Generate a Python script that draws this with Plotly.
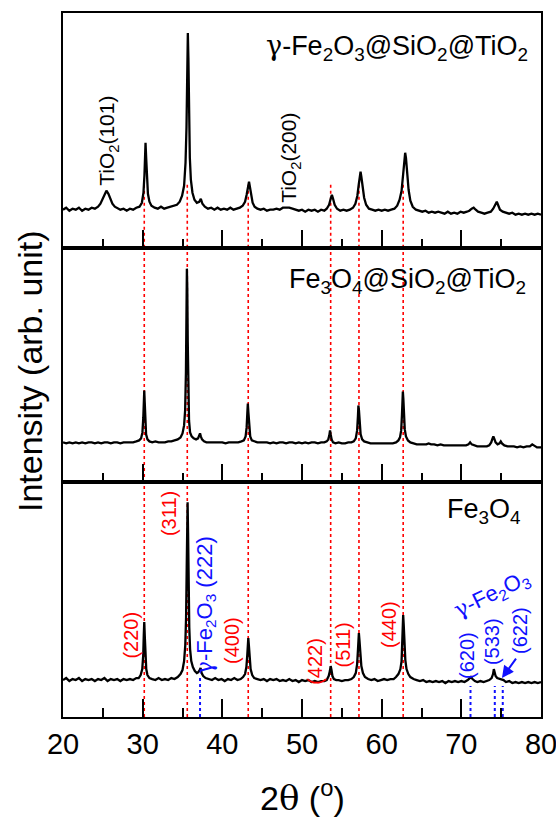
import plotly.graph_objects as go

# ---------------- data (2theta in degrees, intensity in arb. units per panel) ----------------
gamma_pattern = [
    (20.0,38),(20.4,40),(20.8,37),(21.2,39),(21.6,38),(22.0,40),(22.4,37),(22.8,39),(23.2,38),(23.6,40),
    (24.0,39),(24.4,41),(24.7,44),(24.95,49),(25.2,54),(25.45,57),(25.7,54),(25.95,49),(26.2,44),(26.5,41),
    (26.8,40),(27.2,38),(27.6,39),(28.0,37),(28.4,39),(28.8,38),(29.2,40),(29.6,41),(29.9,45),(30.1,55),
    (30.22,72),(30.3,92),(30.36,105),(30.44,90),(30.54,68),(30.66,54),(30.85,46),(31.1,42),(31.5,40),(31.9,39),
    (32.3,41),(32.7,39),(33.1,40),(33.5,41),(33.9,42),(34.3,43),(34.65,46),(34.95,52),(35.2,62),(35.38,85),
    (35.5,120),(35.6,170),(35.67,215),(35.74,190),(35.82,130),(35.92,90),(36.05,68),(36.25,55),(36.5,48),(36.8,45),
    (37.1,46),(37.3,49),(37.5,44),(37.8,41),(38.2,39),(38.6,40),(39.0,38),(39.4,40),(39.8,38),(40.2,39),
    (40.6,38),(41.0,40),(41.4,38),(41.8,39),(42.2,40),(42.55,42),(42.85,46),(43.05,53),(43.2,60),(43.35,66),
    (43.48,60),(43.62,52),(43.8,45),(44.05,41),(44.4,39),(44.8,38),(45.2,39),(45.6,37),(46.0,38),(46.4,38),
    (46.8,39),(47.2,38),(47.6,40),(48.0,40),(48.4,40),(48.8,39),(49.2,38),(49.6,37),(50.0,38),(50.4,36),
    (50.8,38),(51.2,37),(51.6,38),(52.0,36),(52.4,38),(52.8,37),(53.1,39),(53.4,43),(53.6,49),(53.75,53),
    (53.9,49),(54.1,43),(54.4,39),(54.8,37),(55.2,38),(55.6,37),(56.0,38),(56.4,40),(56.7,44),(56.95,52),
    (57.12,63),(57.25,72),(57.35,76),(57.45,71),(57.6,60),(57.8,50),(58.05,43),(58.4,39),(58.8,38),(59.2,37),
    (59.6,38),(60.0,37),(60.4,38),(60.8,37),(61.2,38),(61.6,39),(61.95,42),(62.25,48),(62.5,57),(62.7,72),
    (62.85,88),(62.95,95),(63.05,90),(63.2,74),(63.38,58),(63.6,47),(63.9,41),(64.3,38),(64.7,37),(65.1,36),
    (65.5,37),(65.9,35),(66.3,36),(66.7,35),(67.1,36),(67.5,35),(67.9,34),(68.3,36),(68.7,34),(69.1,35),
    (69.5,34),(69.9,36),(70.3,35),(70.7,36),(71.0,37),(71.3,39),(71.55,40),(71.8,38),(72.1,36),(72.5,35),
    (72.9,34),(73.3,35),(73.7,36),(74.0,39),(74.25,43),(74.45,46),(74.6,43),(74.85,38),(75.2,36),(75.6,35),
    (76.0,34),(76.4,35),(76.8,33),(77.2,34),(77.6,33),(78.0,34),(78.4,33),(78.8,34),(79.2,33),(79.6,34),(80.0,33),
]

fe3o4_sio2_tio2_pattern = [
    (20.0,40),(20.4,39),(20.8,40),(21.2,39),(21.6,40),(22.0,39),(22.4,40),(22.8,39),(23.2,40),(23.6,40),
    (24.0,39),(24.4,40),(24.8,39),(25.2,40),(25.6,40),(26.0,39),(26.4,40),(26.8,40),(27.2,39),(27.6,40),
    (28.0,40),(28.4,40),(28.8,40),(29.2,41),(29.55,42),(29.8,44),(29.97,50),(30.08,65),(30.15,85),(30.2,92),
    (30.26,80),(30.33,60),(30.43,48),(30.6,43),(30.85,41),(31.2,40),(31.6,41),(32.0,40),(32.4,40),(32.8,40),
    (33.2,41),(33.6,41),(34.0,42),(34.4,43),(34.75,45),(35.0,49),(35.2,57),(35.33,72),(35.43,110),(35.5,170),
    (35.55,214),(35.6,195),(35.66,140),(35.73,90),(35.82,62),(35.95,50),(36.15,46),(36.4,44),(36.7,43),(36.95,44),
    (37.1,47),(37.2,49),(37.3,46),(37.45,43),(37.7,41),(38.0,40),(38.4,40),(38.8,40),(39.2,40),(39.6,40),
    (40.0,40),(40.4,39),(40.8,40),(41.2,40),(41.6,40),(42.0,40),(42.4,41),(42.7,42),(42.92,46),(43.05,55),
    (43.14,70),(43.2,79),(43.27,70),(43.36,55),(43.5,46),(43.7,42),(44.0,41),(44.4,40),(44.8,40),(45.2,40),
    (45.6,40),(46.0,39),(46.4,40),(46.8,39),(47.2,40),(47.6,40),(48.0,39),(48.4,40),(48.8,40),(49.2,39),
    (49.6,40),(50.0,39),(50.4,40),(50.8,39),(51.2,40),(51.6,40),(52.0,39),(52.4,40),(52.8,40),(53.1,41),
    (53.3,43),(53.43,47),(53.52,52),(53.6,48),(53.72,43),(53.9,40),(54.2,39),(54.6,40),(55.0,39),(55.4,39),
    (55.8,40),(56.2,40),(56.5,41),(56.75,44),(56.92,52),(57.02,66),(57.08,77),(57.15,72),(57.24,58),(57.36,48),
    (57.55,43),(57.8,41),(58.2,40),(58.6,39),(59.0,39),(59.4,39),(59.8,39),(60.2,39),(60.6,39),(61.0,39),
    (61.4,39),(61.8,40),(62.1,42),(62.3,45),(62.45,52),(62.55,68),(62.62,88),(62.66,91),(62.72,84),(62.8,66),
    (62.9,53),(63.05,46),(63.3,42),(63.6,40),(64.0,39),(64.4,38),(64.8,38),(65.2,38),(65.6,38),(65.9,39),
    (66.2,38),(66.6,38),(67.0,37),(67.4,38),(67.8,37),(68.2,37),(68.6,37),(69.0,37),(69.4,37),(69.8,37),
    (70.2,37),(70.6,37),(70.9,38),(71.1,40),(71.3,38),(71.6,37),(72.0,36),(72.4,36),(72.8,36),(73.2,36),
    (73.5,37),(73.75,40),(73.92,44),(74.02,46),(74.12,44),(74.3,40),(74.55,38),(74.8,39),(74.95,41),(75.1,39),
    (75.4,37),(75.8,36),(76.2,36),(76.6,36),(77.0,35),(77.4,36),(77.8,35),(78.2,36),(78.6,36),(78.9,38),
    (79.1,37),(79.5,35),(80.0,35),
]

fe3o4_pattern = [
    (20.0,37),(20.4,39),(20.8,36),(21.2,38),(21.6,37),(22.0,39),(22.4,36),(22.8,38),(23.2,37),(23.6,38),
    (24.0,36),(24.4,38),(24.8,37),(25.2,39),(25.6,36),(26.0,38),(26.4,37),(26.8,38),(27.2,36),(27.6,38),
    (28.0,37),(28.4,38),(28.8,37),(29.2,39),(29.5,39),(29.75,42),(29.95,48),(30.07,62),(30.14,82),(30.2,95),
    (30.27,80),(30.35,60),(30.45,48),(30.6,42),(30.85,39),(31.2,38),(31.6,37),(32.0,39),(32.4,37),(32.8,38),
    (33.2,37),(33.6,39),(34.0,38),(34.4,40),(34.75,43),(35.0,47),(35.2,56),(35.35,72),(35.45,100),(35.53,150),
    (35.6,200),(35.64,215),(35.7,185),(35.77,130),(35.85,90),(35.95,68),(36.1,56),(36.3,50),(36.55,46),(36.8,44),
    (37.0,45),(37.15,47),(37.27,49),(37.4,44),(37.6,41),(37.9,39),(38.3,38),(38.7,37),(39.1,39),(39.5,37),
    (39.9,38),(40.3,36),(40.7,38),(41.1,37),(41.5,39),(41.9,37),(42.3,38),(42.6,40),(42.85,43),(43.02,50),
    (43.13,62),(43.2,74),(43.26,79),(43.33,72),(43.42,58),(43.55,48),(43.75,42),(44.0,39),(44.4,38),(44.8,37),
    (45.2,38),(45.6,36),(46.0,38),(46.4,37),(46.8,38),(47.2,36),(47.6,37),(48.0,36),(48.4,38),(48.8,36),
    (49.2,37),(49.6,35),(50.0,37),(50.4,36),(50.8,37),(51.2,35),(51.6,36),(52.0,35),(52.4,36),(52.8,36),
    (53.1,37),(53.35,41),(53.5,46),(53.6,51),(53.7,47),(53.82,41),(54.0,38),(54.3,37),(54.6,37),(55.0,36),
    (55.4,37),(55.8,37),(56.2,38),(56.5,40),(56.75,44),(56.92,53),(57.03,68),(57.1,80),(57.14,84),(57.22,76),
    (57.32,62),(57.45,51),(57.65,44),(57.9,40),(58.3,38),(58.7,37),(59.1,38),(59.5,36),(59.9,37),(60.3,38),
    (60.7,37),(61.1,38),(61.5,38),(61.8,40),(62.1,43),(62.35,48),(62.5,56),(62.6,72),(62.66,90),(62.7,102),
    (62.77,92),(62.86,72),(62.97,57),(63.12,48),(63.35,43),(63.6,40),(64.0,38),(64.4,37),(64.8,36),(65.2,37),
    (65.6,35),(66.0,36),(66.4,35),(66.8,36),(67.2,35),(67.6,36),(68.0,34),(68.4,36),(68.8,35),(69.2,36),
    (69.6,35),(70.0,36),(70.4,35),(70.8,37),(71.05,39),(71.2,40),(71.4,38),(71.7,36),(72.0,35),(72.4,36),
    (72.8,35),(73.2,36),(73.5,37),(73.8,39),(73.98,43),(74.08,48),(74.18,45),(74.3,41),(74.5,39),(74.8,38),
    (75.1,37),(75.3,37),(75.6,35),(76.0,36),(76.4,34),(76.8,35),(77.2,34),(77.6,35),(78.0,34),(78.4,35),
    (78.8,34),(79.2,35),(79.6,34),(80.0,35),
]

# reference reflections
fe3o4_peaks = [30.2, 35.6, 43.25, 53.6, 57.15, 62.7]
fe3o4_hkl = ["(220)", "(311)", "(400)", "(422)", "(511)", "(440)"]
fe3o4_label_x = [28.6, 33.4, 41.2, 51.6, 55.2, 60.9]
fe3o4_label_y = [82, 204, 77, 56, 72, 93]
red_line_top_panel1 = 63

gamma_peaks = [37.2, 71.15, 74.2, 75.2]
gamma_line_tops = [42, 31, 31, 31]
gamma_hkl = ["(620)", "(533)", "(622)"]
gamma_label_x = [70.7, 73.85, 77.35]
gamma_label_y = [62, 75, 87]

tio2_labels = ["TiO<sub>2</sub>(101)", "TiO<sub>2</sub>(200)"]
tio2_label_x = [25.65, 48.5]
tio2_label_y = [107, 90]

GAMMA = '<span style="font-family:DejaVu Serif">γ</span>'
panel_names = [GAMMA + "-Fe<sub>2</sub>O<sub>3</sub>@SiO<sub>2</sub>@TiO<sub>2</sub>",
               "Fe<sub>3</sub>O<sub>4</sub>@SiO<sub>2</sub>@TiO<sub>2</sub>",
               "Fe<sub>3</sub>O<sub>4</sub>"]
x_ticks = [20, 30, 40, 50, 60, 70, 80]

# ---------------- figure ----------------
FONT = "Liberation Sans, Arial, sans-serif"
RED = "#ff0000"
BLUE = "#1010ff"
YMAX = 235

fig = go.Figure()
patterns = [gamma_pattern, fe3o4_sio2_tio2_pattern, fe3o4_pattern]
yrefs = ["y", "y2", "y3"]
xrefs = ["x", "x2", "x3"]
for pat, xr, yr in zip(patterns, xrefs, yrefs):
    fig.add_trace(go.Scatter(x=[p[0] for p in pat], y=[p[1] for p in pat], mode="lines",
                             line=dict(color="black", width=2.3), xaxis=xr, yaxis=yr,
                             showlegend=False, hoverinfo="skip"))

shapes = []
for pk in fe3o4_peaks:
    shapes.append(dict(type="line", xref="x3", yref="paper", x0=pk, x1=pk, y0=0, y1=2/3,
                       line=dict(color=RED, width=1.6, dash="dot"), layer="below"))
    shapes.append(dict(type="line", xref="x", yref="y", x0=pk, x1=pk, y0=0, y1=red_line_top_panel1,
                       line=dict(color=RED, width=1.6, dash="dot"), layer="below"))
for pk, top in zip(gamma_peaks, gamma_line_tops):
    shapes.append(dict(type="line", xref="x3", yref="y3", x0=pk, x1=pk, y0=0, y1=top,
                       line=dict(color=BLUE, width=2, dash="dot"), layer="below"))

ann = []
# panel names
ann.append(dict(xref="x", yref="y", x=78.6, y=200, text=panel_names[0], showarrow=False,
                xanchor="right", yanchor="middle", font=dict(size=27, color="black", family=FONT)))
ann.append(dict(xref="x2", yref="y2", x=78.4, y=202, text=panel_names[1], showarrow=False,
                xanchor="right", yanchor="middle", font=dict(size=27, color="black", family=FONT)))
ann.append(dict(xref="x3", yref="y3", x=77.7, y=206, text=panel_names[2], showarrow=False,
                xanchor="right", yanchor="middle", font=dict(size=27, color="black", family=FONT)))
# TiO2 labels
for t, xx, yy in zip(tio2_labels, tio2_label_x, tio2_label_y):
    ann.append(dict(xref="x", yref="y", x=xx, y=yy, text=t, showarrow=False, textangle=-90,
                    xanchor="center", yanchor="middle", font=dict(size=21, color="black", family=FONT)))
# Fe3O4 hkl labels
for t, xx, yy in zip(fe3o4_hkl, fe3o4_label_x, fe3o4_label_y):
    ann.append(dict(xref="x3", yref="y3", x=xx, y=yy, text=t, showarrow=False, textangle=-90,
                    xanchor="center", yanchor="middle", font=dict(size=20, color=RED, family=FONT)))
# gamma labels
ann.append(dict(xref="x3", yref="y3", x=37.95, y=112,
                text=GAMMA + "-Fe<sub>2</sub>O<sub>3</sub> (222)", showarrow=False, textangle=-90,
                xanchor="center", yanchor="middle", font=dict(size=22, color=BLUE, family=FONT)))
for t, xx, yy in zip(gamma_hkl, gamma_label_x, gamma_label_y):
    ann.append(dict(xref="x3", yref="y3", x=xx, y=yy, text=t, showarrow=False, textangle=-90,
                    xanchor="center", yanchor="middle", font=dict(size=20, color=BLUE, family=FONT)))
ann.append(dict(xref="x3", yref="y3", x=73.85, y=122, text=GAMMA + "-Fe<sub>2</sub>O<sub>3</sub>",
                showarrow=False, textangle=-26, xanchor="center", yanchor="middle",
                font=dict(size=22, color=BLUE, family=FONT)))
# arrow to (622)
ann.append(dict(xref="x3", yref="y3", x=75.1, y=39, axref="x3", ayref="y3", ax=77.0, ay=60,
                text="", showarrow=True, arrowhead=2, arrowsize=1.2, arrowwidth=2, arrowcolor=BLUE))
# axis titles
ann.append(dict(xref="paper", yref="paper", x=-0.069, y=0.4915, text="Intensity (arb. unit)",
                showarrow=False, textangle=-90, xanchor="center", yanchor="middle",
                font=dict(size=34, color="black", family=FONT)))
ann.append(dict(xref="paper", yref="paper", x=0.5, y=-0.112,
                text='2<span style="font-family:DejaVu Serif">θ</span> (<sup>o</sup>)',
                showarrow=False, xanchor="center", yanchor="middle",
                font=dict(size=34, color="black", family=FONT)))

def xaxis(anchor, labels):
    return dict(anchor=anchor, domain=[0, 1], range=[20, 80], tickvals=x_ticks,
                showticklabels=labels, ticks="inside", ticklen=18, tickwidth=1.6, tickcolor="black",
                minor=dict(dtick=5, tick0=20, ticks="inside", ticklen=9, tickwidth=1.6, tickcolor="black"),
                showline=True, linecolor="black", linewidth=1.8, mirror=True, showgrid=False,
                zeroline=False, ticklabeloverflow="allow", automargin=False,
                tickfont=dict(size=29, color="black", family=FONT))

def yaxis(anchor, dom):
    return dict(anchor=anchor, domain=dom, range=[0, YMAX], showticklabels=False, ticks="",
                showline=True, linecolor="black", linewidth=1.8, mirror=True, showgrid=False,
                zeroline=False, automargin=False)

fig.update_layout(
    width=556, height=817, margin=dict(l=63, r=15, t=13, b=100, autoexpand=False),
    paper_bgcolor="white", plot_bgcolor="white",
    xaxis=xaxis("y", False), yaxis=yaxis("x", [2/3, 1]),
    xaxis2=xaxis("y2", False), yaxis2=yaxis("x2", [1/3, 2/3]),
    xaxis3=xaxis("y3", True), yaxis3=yaxis("x3", [0, 1/3]),
    shapes=shapes, annotations=ann, showlegend=False,
)

fig.write_html("out.html")
